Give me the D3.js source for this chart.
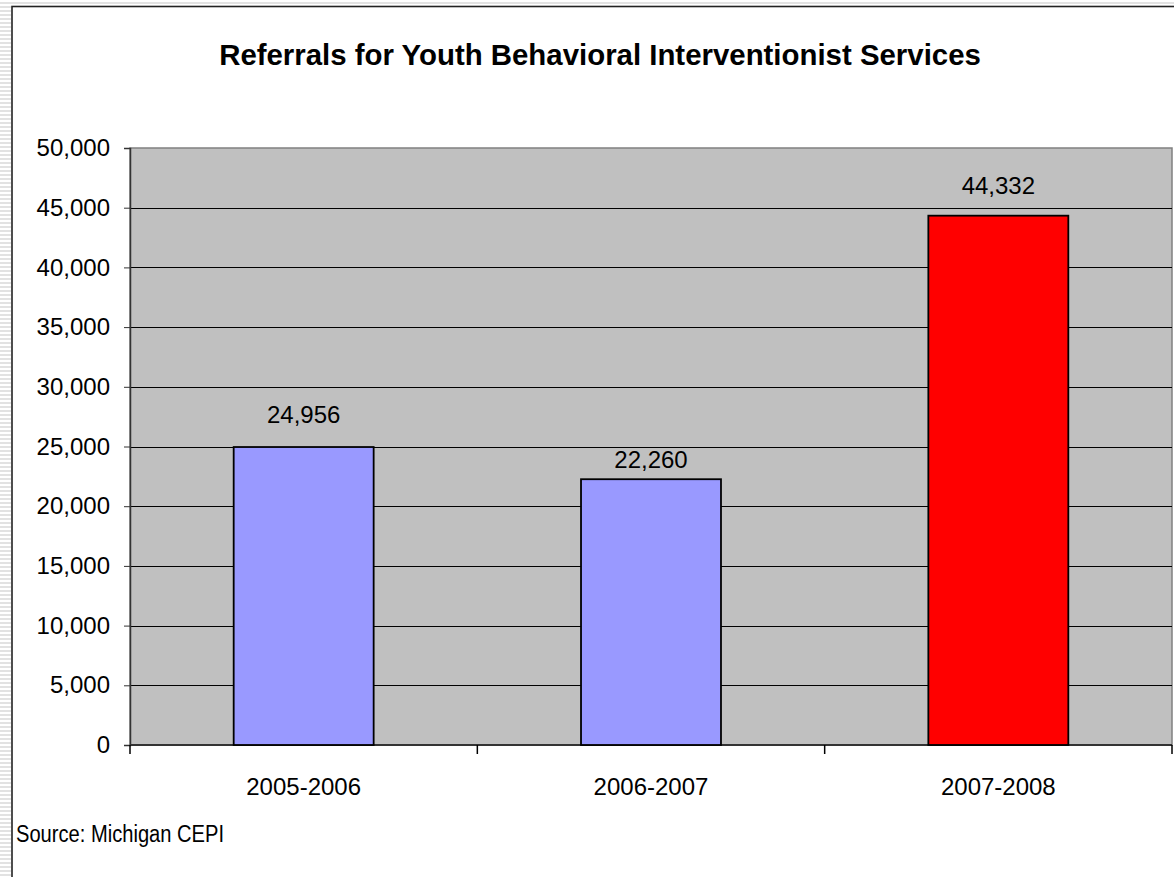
<!DOCTYPE html>
<html>
<head>
<meta charset="utf-8">
<script src="https://cdn.jsdelivr.net/npm/d3@7"></script>
<style>
  body { margin: 0; background: #fff; }
  #chart { width: 1174px; height: 877px; }
  text { font-family: "Liberation Sans", Arial, sans-serif; fill: #000; }
</style>
</head>
<body>
<div id="chart"></div>
<script>
// data
var years = ["2005-2006", "2006-2007", "2007-2008"];
var referrals = [24956, 22260, 44332];
var barColors = ["#9999FF", "#9999FF", "#FF0000"];
var yTicks = [0, 5000, 10000, 15000, 20000, 25000, 30000, 35000, 40000, 45000, 50000];
var labelGap = [24, 11, 22];

var width = 1174, height = 877;
var margin = {top: 148, left: 130, right: 2, bottom: 132};

var svg = d3.select("#chart")
    .append("svg")
    .attr("width", width)
    .attr("height", height);

// striped strip on the left edge + frame
var defs = svg.append("defs");
var pat = defs.append("pattern")
    .attr("id", "stripes")
    .attr("width", 4).attr("height", 4)
    .attr("patternUnits", "userSpaceOnUse");
pat.append("rect").attr("width", 4).attr("height", 4).attr("fill", "#fff");
pat.append("rect").attr("y", 2).attr("width", 4).attr("height", 2).attr("fill", "#e2e2e2");

svg.append("rect")
    .attr("x", 0).attr("y", 0)
    .attr("width", 11).attr("height", height)
    .attr("fill", "url(#stripes)");
svg.append("rect")
    .attr("x", 0).attr("y", 0)
    .attr("width", width).attr("height", 5)
    .attr("fill", "url(#stripes)");

svg.append("rect")
    .attr("x", 12).attr("y", 6.5)
    .attr("width", width + 10).attr("height", height + 10)
    .attr("fill", "#fff")
    .attr("stroke", "#222")
    .attr("stroke-width", 1.6);

var xScale = d3.scaleBand()
    .domain(years)
    .range([margin.left, width - margin.right])
    .paddingInner(0.597)
    .paddingOuter(0.2985);

var xBand = d3.scaleBand()
    .domain(years)
    .range([margin.left, width - margin.right]);

var yScale = d3.scaleLinear()
    .domain([0, 50000])
    .range([height - margin.bottom, margin.top]);

// plot area
svg.append("rect")
    .attr("x", margin.left)
    .attr("y", margin.top)
    .attr("width", width - margin.right - margin.left)
    .attr("height", yScale(0) - margin.top)
    .attr("fill", "#C0C0C0")
    .attr("stroke", "#808080")
    .attr("stroke-width", 1.5);

// gridlines
svg.selectAll(".grid")
    .data(yTicks.filter(function(d) { return d > 0 && d < 50000; }))
    .enter()
    .append("line")
    .attr("x1", margin.left)
    .attr("x2", width - margin.right)
    .attr("y1", function(d) { return Math.round(yScale(d)) + 0.5; })
    .attr("y2", function(d) { return Math.round(yScale(d)) + 0.5; })
    .attr("stroke", "#000")
    .attr("stroke-width", 1);

// y axis
var yAxis = svg.append("g")
    .attr("transform", "translate(" + margin.left + ",0)")
    .call(d3.axisLeft(yScale)
        .tickValues(yTicks)
        .tickSize(6)
        .tickPadding(14)
        .tickFormat(d3.format(",")));
yAxis.select(".domain").attr("stroke", "#333").attr("stroke-width", 1.5);
yAxis.selectAll(".tick line").attr("stroke", "#333");
yAxis.selectAll(".tick text")
    .style("font-size", "24px")
    .style("font-family", "Liberation Sans, Arial, sans-serif")
    .attr("fill", "#000");

// x axis with ticks between categories
var xAxis = svg.append("g")
    .attr("transform", "translate(0," + yScale(0) + ")");
xAxis.append("line")
    .attr("x1", margin.left).attr("x2", width - margin.right)
    .attr("y1", 0).attr("y2", 0)
    .attr("stroke", "#333").attr("stroke-width", 1.8);
var bounds = years.map(function(d) { return xBand(d); }).concat([xBand(years[2]) + xBand.bandwidth()]);
xAxis.selectAll(".xtick")
    .data(bounds)
    .enter()
    .append("line")
    .attr("x1", function(d) { return d; })
    .attr("x2", function(d) { return d; })
    .attr("y1", 0).attr("y2", 9)
    .attr("stroke", "#000").attr("stroke-width", 1.5);
xAxis.selectAll(".xlabel")
    .data(years)
    .enter()
    .append("text")
    .attr("x", function(d) { return xBand(d) + xBand.bandwidth() / 2; })
    .attr("y", 50)
    .attr("text-anchor", "middle")
    .style("font-size", "24px")
    .text(function(d) { return d; });

// bars
svg.selectAll(".bar")
    .data(referrals)
    .enter()
    .append("rect")
    .attr("x", function(d, i) { return xScale(years[i]); })
    .attr("y", function(d) { return yScale(d); })
    .attr("width", xScale.bandwidth())
    .attr("height", function(d) { return yScale(0) - yScale(d); })
    .attr("fill", function(d, i) { return barColors[i]; })
    .attr("stroke", "#000")
    .attr("stroke-width", 1.8);

// value labels
svg.selectAll(".val")
    .data(referrals)
    .enter()
    .append("text")
    .attr("x", function(d, i) { return xScale(years[i]) + xScale.bandwidth() / 2; })
    .attr("y", function(d, i) { return yScale(d) - labelGap[i]; })
    .attr("text-anchor", "middle")
    .style("font-size", "24px")
    .text(function(d) { return d3.format(",")(d); });

// title
svg.append("text")
    .attr("x", 600)
    .attr("y", 65)
    .attr("text-anchor", "middle")
    .style("font-size", "29.4px")
    .style("font-weight", "bold")
    .text("Referrals for Youth Behavioral Interventionist Services");

// source note
svg.append("text")
    .attr("x", 16)
    .attr("y", 842)
    .attr("textLength", 208)
    .attr("lengthAdjust", "spacingAndGlyphs")
    .style("font-size", "23px")
    .text("Source: Michigan CEPI");
</script>
</body>
</html>
